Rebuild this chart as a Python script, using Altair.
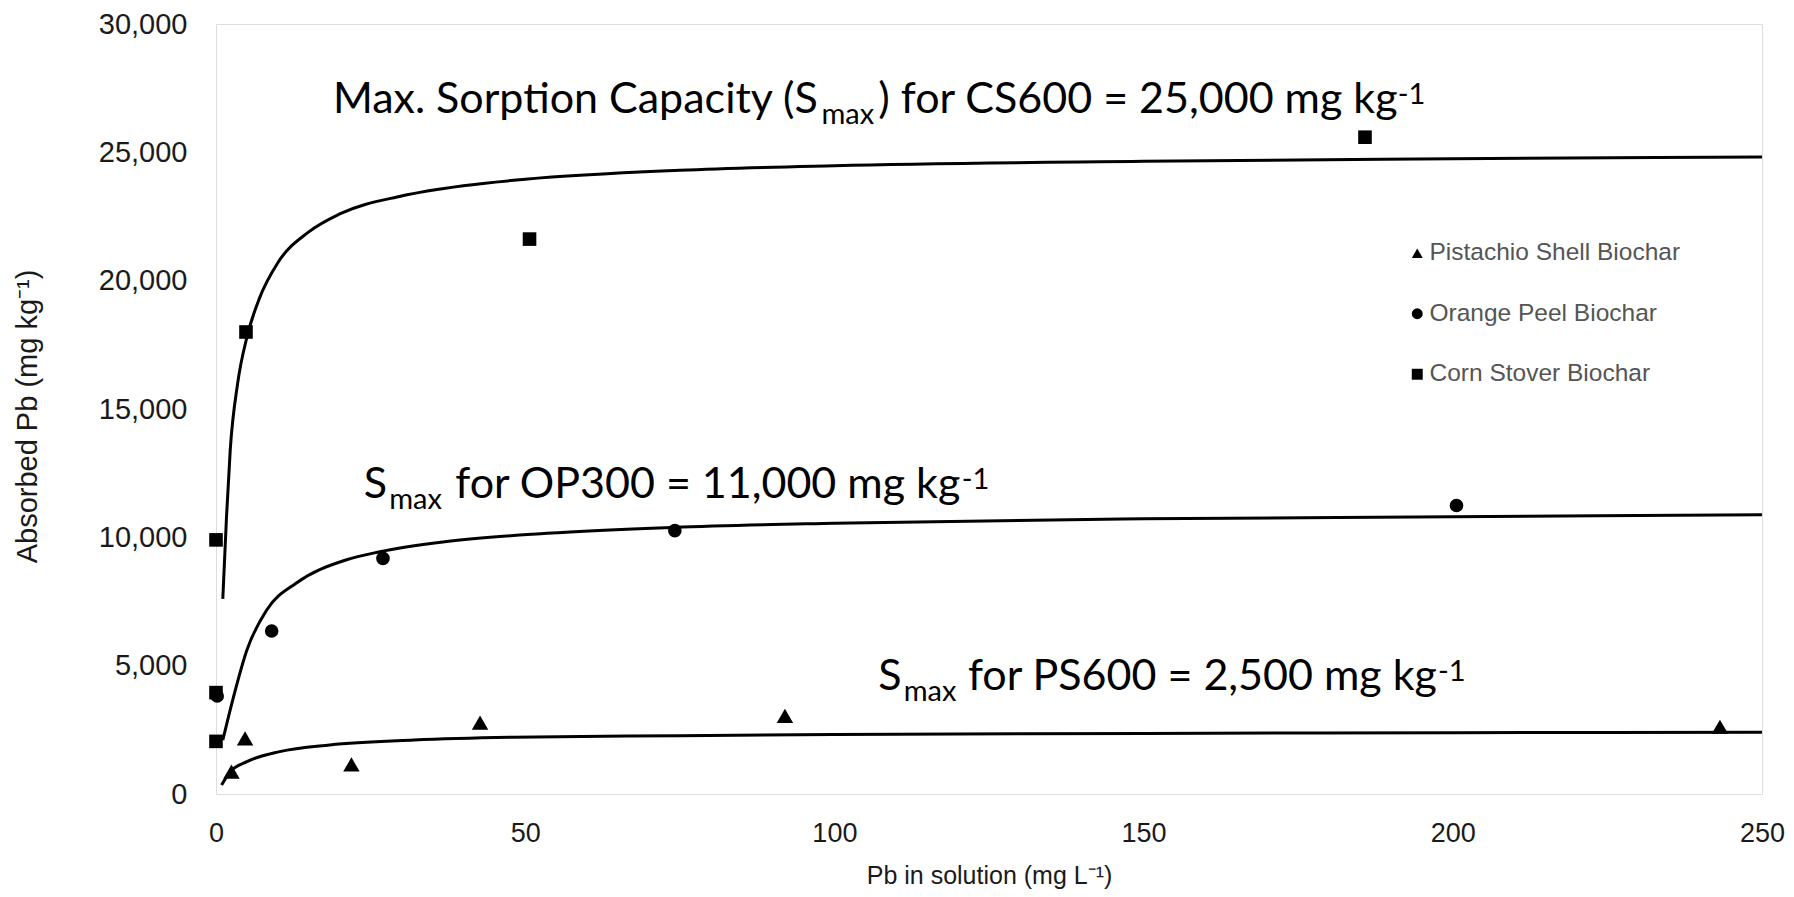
import altair as alt
import pandas as pd

series_names = ["Pistachio Shell Biochar", "Orange Peel Biochar", "Corn Stover Biochar"]

# measured points
ps_x = [2.5, 4.7, 21.9, 42.7, 92.0, 243.2]
ps_y = [870, 2170, 1150, 2780, 3040, 2620]
op_x = [0.2, 9.0, 27.0, 74.2, 200.6]
op_y = [3820, 6350, 9180, 10260, 11240]
cs_x = [0.0, 0.0, 0.0, 4.85, 50.7, 185.8]
cs_y = [2050, 3950, 9900, 18000, 21620, 25590]

# fitted curves
ps_fit_x = [0.9, 2.3, 5, 10.3, 18.4, 32, 48, 75, 100, 150, 200, 250]
ps_fit_y = [350, 870, 1260, 1650, 1910, 2100, 2210, 2270, 2320, 2360, 2390, 2410]
op_fit_x = [1.1, 2.7, 5, 8.2, 13, 21, 26.5, 37, 53.5, 74, 100, 150, 200, 250]
op_fit_y = [2100, 3660, 5610, 7170, 8220, 9117, 9440, 9830, 10157, 10390, 10550, 10720, 10800, 10880]
cs_fit_x = [1.1, 1.7, 2.3, 3.5, 5, 7, 10, 15, 20, 30, 40, 50, 75, 100, 150, 200, 250]
cs_fit_y = [7600, 10800, 13400, 16000, 17800, 19300, 20700, 21900, 22600, 23300, 23700, 23950, 24300, 24480, 24650, 24750, 24820]

# annotation pieces: text, x, y (baseline), kind
ann_text = ["Max. Sorption Capacity (S", "max", ") for CS600 = 25,000 mg kg", "-1",
            "S", "max", "for OP300 = 11,000 mg kg", "-1",
            "S", "max", "for PS600 = 2,500 mg kg", "-1"]
ann_x = [18.9, 97.9, 107.1, 191.1,
         23.9, 28.0, 38.7, 120.6,
         107.1, 111.2, 121.6, 197.6]
ann_y = [26532, 26103, 26532, 26870,
         11532, 11104, 11532, 11870,
         4052, 3623, 4052, 4390]
ann_kind = ["main", "small", "main", "small"] * 3

pts = pd.DataFrame({
    "x": ps_x + op_x + cs_x,
    "y": ps_y + op_y + cs_y,
    "series": [series_names[0]] * len(ps_x) + [series_names[1]] * len(op_x) + [series_names[2]] * len(cs_x),
})
fits = pd.DataFrame({
    "x": ps_fit_x + op_fit_x + cs_fit_x,
    "y": ps_fit_y + op_fit_y + cs_fit_y,
    "series": [series_names[0]] * len(ps_fit_x) + [series_names[1]] * len(op_fit_x) + [series_names[2]] * len(cs_fit_x),
})
ann = pd.DataFrame({"text": ann_text, "x": ann_x, "y": ann_y, "kind": ann_kind})

xscale = alt.Scale(domain=[0, 250], nice=False, zero=False)
yscale = alt.Scale(domain=[0, 30000], nice=False)

xaxis = alt.Axis(values=[0, 50, 100, 150, 200, 250], title="Pb in solution (mg L\u207b\u00b9)",
                 grid=False, ticks=False, domain=False, labelFlush=False,
                 labelFont="Liberation Sans", labelFontSize=27, labelPadding=26, labelColor="#1a1a1a",
                 titleFont="Liberation Sans", titleFontSize=25, titleFontWeight="normal", titleColor="#1a1a1a",
                 titleY=89, titleBaseline="alphabetic")
yaxis = alt.Axis(values=[0, 5000, 10000, 15000, 20000, 25000, 30000], format=",d",
                 title="Absorbed Pb (mg kg\u207b\u00b9)",
                 grid=False, ticks=False, domain=False, labelFlush=False,
                 labelFont="Liberation Sans", labelFontSize=29, labelPadding=29, labelColor="#1a1a1a",
                 titleFont="Liberation Sans", titleFontSize=29, titleFontWeight="normal", titleColor="#1a1a1a",
                 titleX=-189, titleY=392, titleAngle=270, titleAlign="center", titleBaseline="middle")

lines = alt.Chart(fits).mark_line(color="black", strokeWidth=3, interpolate="monotone").encode(
    x=alt.X("x:Q", scale=xscale, axis=xaxis),
    y=alt.Y("y:Q", scale=yscale, axis=yaxis),
    detail="series:N",
)

points = alt.Chart(pts).mark_point(filled=True, color="black", opacity=1, size=185).encode(
    x=alt.X("x:Q", scale=xscale),
    y=alt.Y("y:Q", scale=yscale),
    shape=alt.Shape("series:N",
                    scale=alt.Scale(domain=series_names, range=["triangle-up", "circle", "square"]),
                    legend=alt.Legend(title=None, orient="none", legendX=1189, legendY=217,
                                      labelFont="Liberation Sans", labelFontSize=24.5, labelColor="#555555",
                                      labelLimit=0,
                                      symbolSize=120, symbolFillColor="black", symbolStrokeColor="black",
                                      symbolStrokeWidth=0, rowPadding=35.5, labelOffset=0, padding=0)),
)

# triangles drawn a little larger, as in the reference
triangles = alt.Chart(pts).transform_filter(alt.datum.series == series_names[0]).mark_point(
    filled=True, color="black", opacity=1, size=270, shape="triangle-up"
).encode(x=alt.X("x:Q", scale=xscale), y=alt.Y("y:Q", scale=yscale))

main_text = alt.Chart(ann).transform_filter(alt.datum.kind == "main").mark_text(
    font="Lato", fontSize=43, align="left", baseline="alphabetic", color="black"
).encode(x=alt.X("x:Q", scale=xscale), y=alt.Y("y:Q", scale=yscale), text="text:N")

small_text = alt.Chart(ann).transform_filter(alt.datum.kind == "small").mark_text(
    font="Lato", fontSize=29, align="left", baseline="alphabetic", color="black"
).encode(x=alt.X("x:Q", scale=xscale), y=alt.Y("y:Q", scale=yscale), text="text:N")

chart = alt.layer(lines, points, triangles, main_text, small_text).properties(
    width=1546, height=770,
    autosize=alt.AutoSizeParams(type="none"),
    padding={"left": 208, "top": 16, "right": 24, "bottom": 95},
).configure_view(stroke="#4a4a4a", strokeWidth=2.5).configure(background="white")

chart.save("out.html", embed_options={"renderer": "svg", "actions": False})
